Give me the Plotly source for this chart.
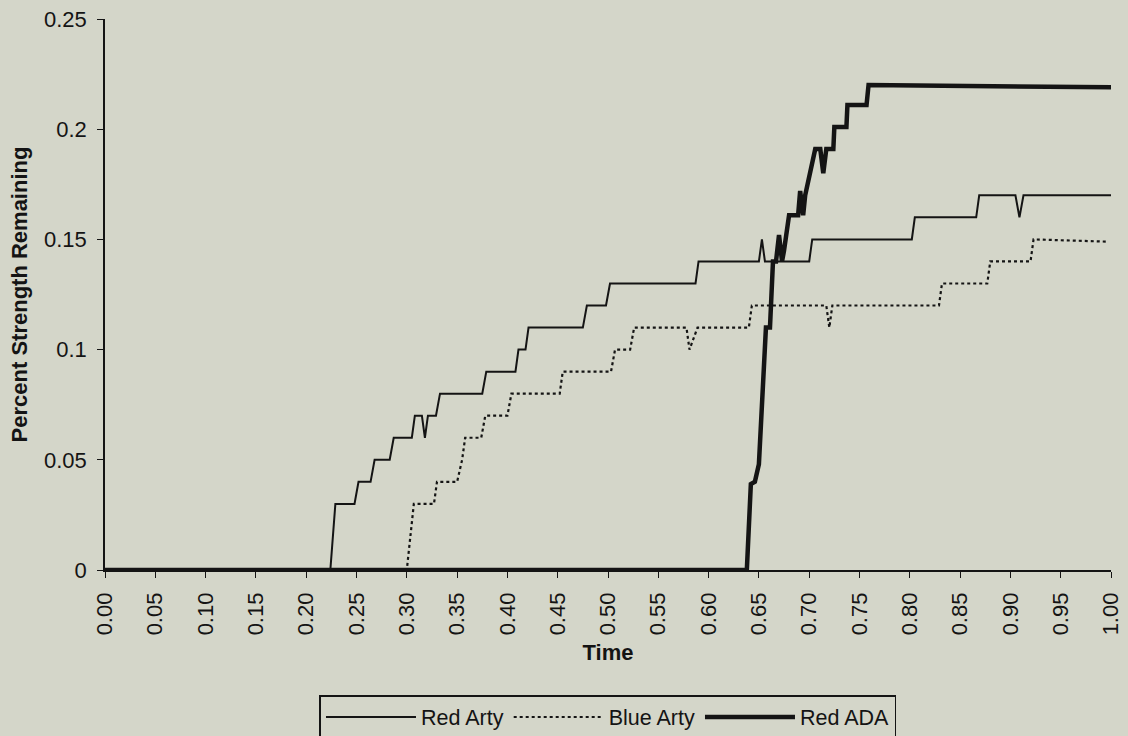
import plotly.graph_objects as go

# ---- data ----
red_arty_t = [0.0, 0.224, 0.229, 0.248, 0.252, 0.264, 0.268, 0.283, 0.287, 0.305, 0.308,
              0.315, 0.318, 0.321, 0.329, 0.333, 0.375, 0.379, 0.408, 0.411, 0.418, 0.421,
              0.475, 0.479, 0.498, 0.502, 0.587, 0.590, 0.650, 0.653, 0.656, 0.700, 0.703,
              0.802, 0.805, 0.866, 0.869, 0.905, 0.909, 0.913, 1.0]
red_arty_v = [0.0, 0.0, 0.03, 0.03, 0.04, 0.04, 0.05, 0.05, 0.06, 0.06, 0.07,
              0.07, 0.06, 0.07, 0.07, 0.08, 0.08, 0.09, 0.09, 0.10, 0.10, 0.11,
              0.11, 0.12, 0.12, 0.13, 0.13, 0.14, 0.14, 0.15, 0.14, 0.14, 0.15,
              0.15, 0.16, 0.16, 0.17, 0.17, 0.16, 0.17, 0.17]

blue_arty_t = [0.0, 0.300, 0.307, 0.327, 0.330, 0.350, 0.355, 0.358, 0.374, 0.378, 0.400,
               0.404, 0.452, 0.455, 0.503, 0.507, 0.522, 0.526, 0.578, 0.581, 0.589, 0.640,
               0.643, 0.717, 0.720, 0.723, 0.829, 0.832, 0.877, 0.880, 0.920, 0.923, 0.995]
blue_arty_v = [0.0, 0.0, 0.03, 0.03, 0.04, 0.04, 0.05, 0.06, 0.06, 0.07, 0.07,
               0.08, 0.08, 0.09, 0.09, 0.10, 0.10, 0.11, 0.11, 0.10, 0.11, 0.11,
               0.12, 0.12, 0.11, 0.12, 0.12, 0.13, 0.13, 0.14, 0.14, 0.15, 0.149]

red_ada_t = [0.0, 0.638, 0.642, 0.646, 0.650, 0.655, 0.657, 0.661, 0.664, 0.667, 0.670,
             0.673, 0.675, 0.680, 0.689, 0.691, 0.694, 0.696, 0.701, 0.706, 0.711, 0.714,
             0.717, 0.724, 0.725, 0.737, 0.738, 0.757, 0.759, 1.0]
red_ada_v = [0.0, 0.0, 0.039, 0.040, 0.048, 0.09, 0.11, 0.11, 0.14, 0.14, 0.152,
             0.14, 0.145, 0.161, 0.161, 0.172, 0.161, 0.17, 0.181, 0.191, 0.191, 0.18,
             0.191, 0.191, 0.201, 0.201, 0.211, 0.211, 0.22, 0.219]

x_ticks = [round(i * 0.05, 2) for i in range(21)]
x_tick_labels = [f"{v:.2f}" for v in x_ticks]
y_ticks = [0, 0.05, 0.1, 0.15, 0.2, 0.25]
y_tick_labels = ["0", "0.05", "0.1", "0.15", "0.2", "0.25"]

FONT = "Liberation Sans, Arial, sans-serif"
BG = "rgb(212,214,201)"
INK = "rgb(20,20,20)"

fig = go.Figure()
fig.add_trace(go.Scatter(x=red_arty_t, y=red_arty_v, mode="lines", name="Red Arty",
                         line=dict(color=INK, width=2)))
fig.add_trace(go.Scatter(x=blue_arty_t, y=blue_arty_v, mode="lines", name="Blue Arty",
                         line=dict(color=INK, width=2.2, dash="dot")))
fig.add_trace(go.Scatter(x=red_ada_t, y=red_ada_v, mode="lines", name="Red ADA",
                         line=dict(color=INK, width=4.5)))

fig.update_layout(
    width=1128, height=736,
    paper_bgcolor=BG, plot_bgcolor=BG,
    margin=dict(l=105, r=17, t=19, b=166),
    font=dict(family=FONT, size=22, color=INK),
    showlegend=True,
    legend=dict(orientation="h", xref="container", yref="container",
                x=0.539, xanchor="center", y=0.0557, yanchor="top",
                bordercolor=INK, borderwidth=1.5, bgcolor=BG,
                font=dict(size=21.5), itemwidth=90, tracegroupgap=0),
    xaxis=dict(range=[0, 1], tickvals=x_ticks, ticktext=x_tick_labels, tickangle=-90,
               automargin=False,
               showgrid=False, zeroline=False, showline=True, linecolor=INK, linewidth=1.5,
               ticks="outside", ticklen=6, tickcolor=INK, tickwidth=1, ticklabelstandoff=6,
               title=dict(text="<b>Time</b>", standoff=10, font=dict(size=22))),
    yaxis=dict(range=[0, 0.25], tickvals=y_ticks, ticktext=y_tick_labels,
               automargin=False,
               showgrid=False, zeroline=False, showline=True, linecolor=INK, linewidth=1.5,
               ticks="outside", ticklen=6, tickcolor=INK, tickwidth=1, ticklabelstandoff=6,
               title=dict(text="<b>Percent Strength Remaining</b>", standoff=10, font=dict(size=22))),
)

fig.write_html(
    "out.html",
    config={"displayModeBar": False},
    post_script="document.body.style.margin='0';document.body.style.overflow='hidden';"
                "document.body.style.background='rgb(212,214,201)';",
)
